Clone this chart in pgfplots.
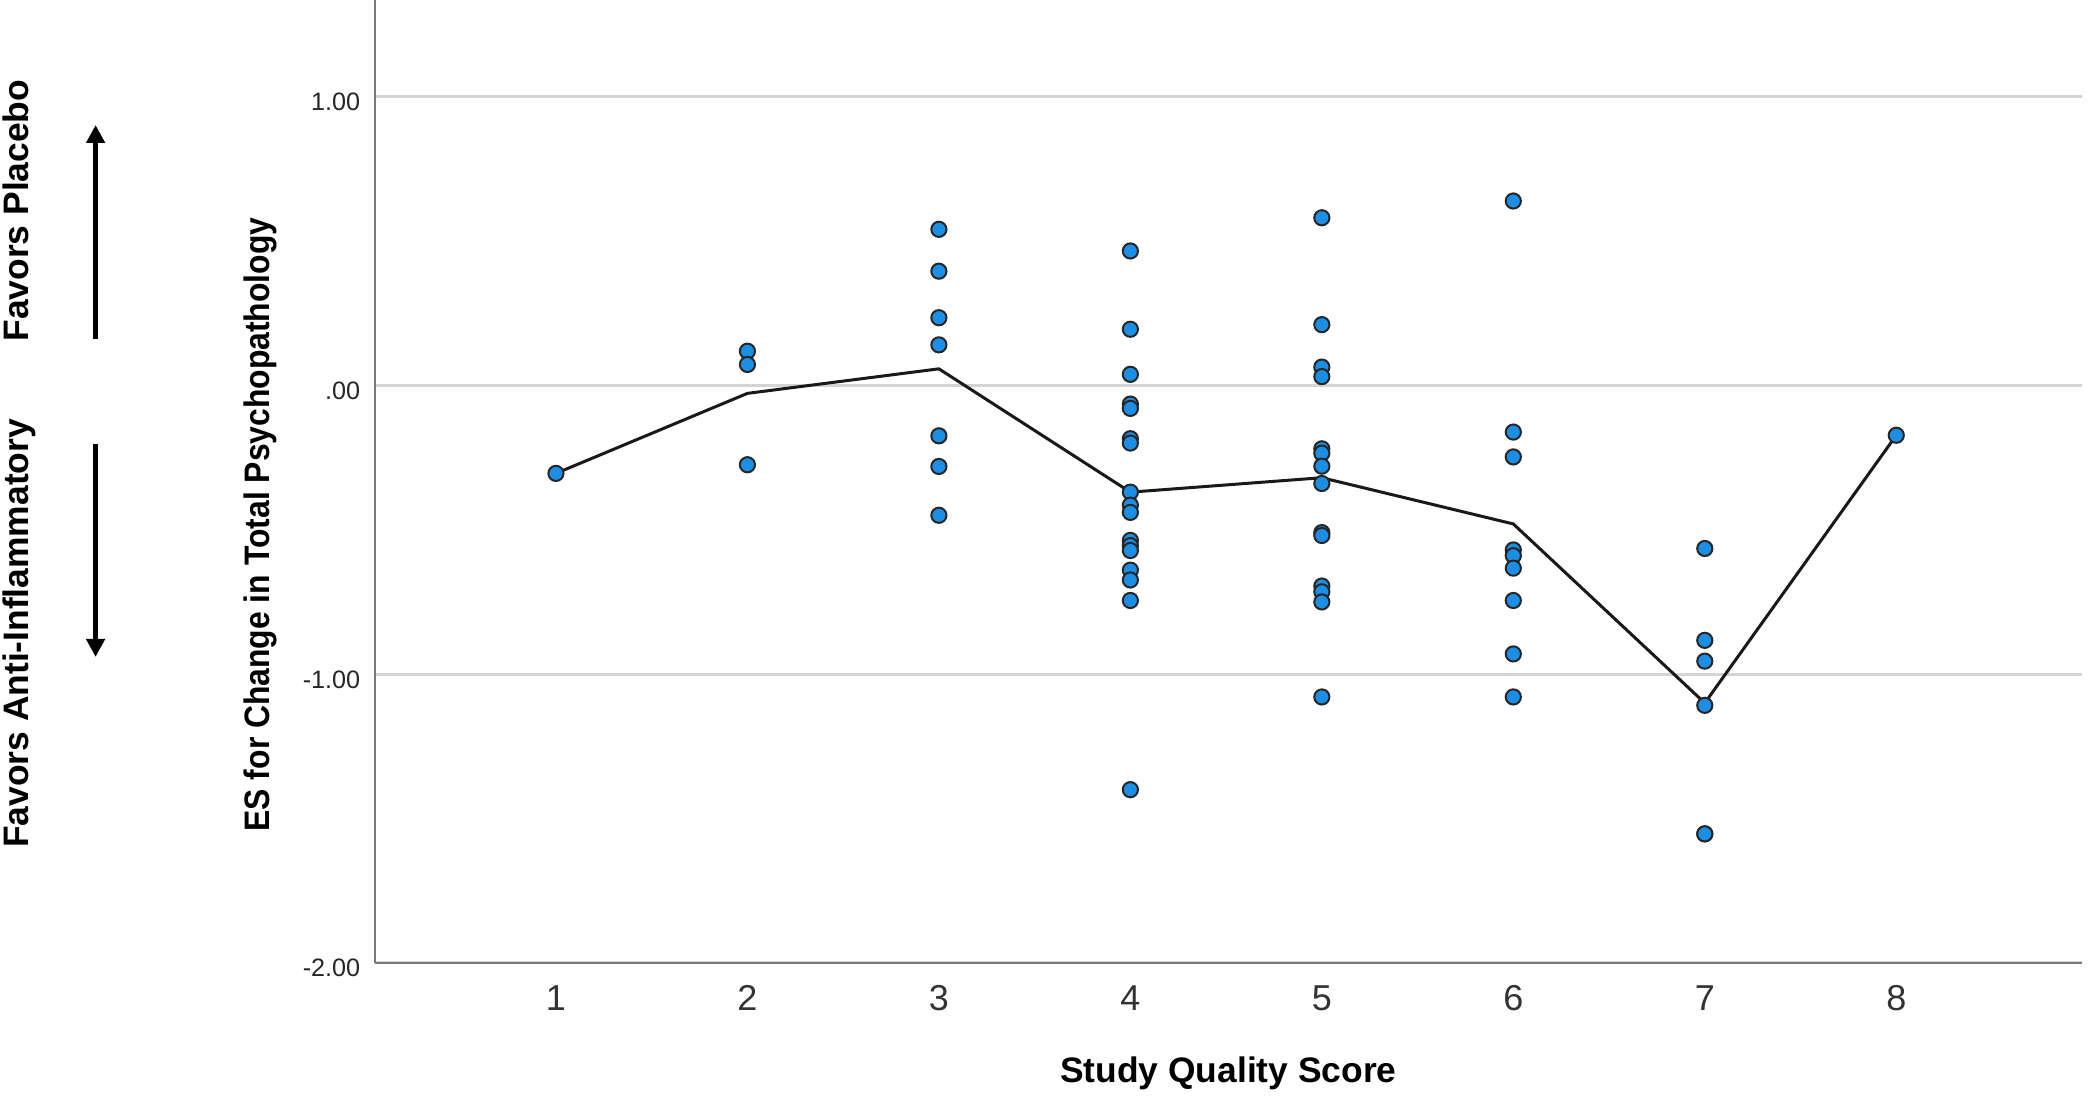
\documentclass[border=0pt]{standalone}
\usepackage{fontspec}
\setmainfont{Liberation Sans}
\usepackage{pgfplots}
\pgfplotsset{compat=1.18}
\usetikzlibrary{arrows.meta}

\definecolor{spssblue}{RGB}{28,143,228}
\definecolor{gridgray}{RGB}{212,212,212}
\definecolor{axisgray}{RGB}{120,120,120}

\begin{document}
\begin{tikzpicture}
\path[use as bounding box] (0pt,0pt) rectangle (525pt,279.75pt);
\begin{axis}[
  at={(93.75pt,39pt)}, anchor=south west,
  scale only axis, width=426.75pt, height=240.75pt,
  xmin=0.055, xmax=8.97, ymin=-2, ymax=1.334,
  axis x line=bottom, axis y line=left,
  axis line style={-, draw=axisgray, line width=0.6pt},
  xtick={1,...,8}, xticklabels={1,2,3,4,5,6,7,8},
  ytick={-2,-1,0,1}, yticklabels={-2.00,-1.00,.00,1.00},
  major tick length=0pt,
  ymajorgrids, grid style={draw=gridgray, line width=0.75pt},
  xticklabel style={font=\fontsize{9}{10}\selectfont, text=black!80,
    anchor=north, inner sep=0pt, yshift=-5.5pt},
  yticklabel style={font=\fontsize{6.3}{7}\selectfont, text=black!85,
    anchor=east, inner sep=0pt, xshift=-3.5pt, yshift=-1.3pt},
  xlabel={Study Quality Score},
  xlabel style={at={(axis description cs:0.5,0)}, anchor=base, yshift=-30pt,
    font=\fontsize{8.85}{10}\selectfont\bfseries},
  ylabel={\scalebox{0.9}[1]{ES for Change in Total Psychopathology}},
  ylabel style={at={([xshift=-28.75pt]axis description cs:0,0.4553)},
    anchor=center, inner sep=0pt, font=\fontsize{8.85}{10}\selectfont\bfseries},
  clip=false,
]
% effect sizes per study, grouped by quality score
\addplot[only marks, mark=*, mark size=1.9pt,
  mark options={fill=spssblue, draw=black!85, line width=0.5pt}] table {
x y
1 -0.305
2 0.118
2 0.072
2 -0.275
3 0.540
3 0.395
3 0.234
3 0.140
3 -0.175
3 -0.281
3 -0.450
4 0.465
4 0.194
4 0.038
4 -0.065
4 -0.080
4 -0.185
4 -0.200
4 -0.370
4 -0.415
4 -0.440
4 -0.537
4 -0.555
4 -0.572
4 -0.640
4 -0.674
4 -0.745
4 -1.400
5 0.580
5 0.210
5 0.063
5 0.030
5 -0.220
5 -0.235
5 -0.280
5 -0.340
5 -0.510
5 -0.520
5 -0.695
5 -0.715
5 -0.750
5 -1.079
6 0.638
6 -0.162
6 -0.248
6 -0.570
6 -0.590
6 -0.633
6 -0.745
6 -0.930
6 -1.079
7 -0.565
7 -0.883
7 -0.955
7 -1.108
7 -1.553
7 -1.553
8 -0.173
};
% mean per score
\addplot[black!90, line width=0.75pt, mark=none] coordinates {
(1,-0.305) (2,-0.028) (3,0.057) (4,-0.370) (5,-0.320) (6,-0.480) (7,-1.100) (8,-0.173)
};
\end{axis}

\node[rotate=90, anchor=base, inner sep=0pt, font=\fontsize{8.85}{10}\selectfont\bfseries]
  at (7.1pt,227.1pt) {Favors Placebo};
\node[rotate=90, anchor=base, inner sep=0pt, font=\fontsize{8.85}{10}\selectfont\bfseries]
  at (7.1pt,121.4pt) {Favors Anti-Inflammatory};
\draw[line width=1.25pt, -{Triangle[width=4.5pt, length=4.5pt]}]
  (23.9pt,195pt) -- (23.9pt,248.5pt);
\draw[line width=1.25pt, -{Triangle[width=4.5pt, length=4.5pt]}]
  (23.9pt,168.75pt) -- (23.9pt,115.5pt);
\end{tikzpicture}
\end{document}
